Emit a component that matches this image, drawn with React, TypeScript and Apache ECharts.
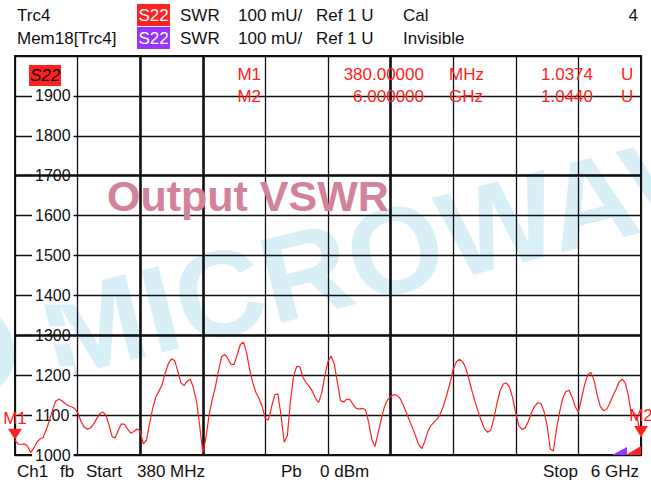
import React, { useEffect, useRef } from 'react';
import * as echarts from 'echarts';

const START_MHZ = 380;
const STOP_MHZ = 6000;
const POINT_COUNT = 201;
const frequenciesMHz = Array.from({ length: POINT_COUNT }, (_, i) =>
  (START_MHZ + (i * (STOP_MHZ - START_MHZ)) / (POINT_COUNT - 1)).toFixed(1)
);

const swrValues = [
  1037, 1027, 1027, 1028, 1022, 1006, 1017, 1032, 1040, 1044,
  1064, 1086, 1113, 1135, 1140, 1136, 1129, 1124, 1121, 1117,
  1107, 1086, 1071, 1065, 1067, 1076, 1090, 1103, 1108, 1101,
  1076, 1046, 1043, 1062, 1078, 1077, 1065, 1055, 1059, 1065,
  1060, 1028, 1037, 1079, 1117, 1146, 1160, 1177, 1206, 1229,
  1241, 1237, 1211, 1181, 1174, 1185, 1190, 1169, 1134, 1074,
  1006, 1042, 1100, 1138, 1170, 1210, 1246, 1252, 1242, 1227,
  1227, 1252, 1277, 1283, 1256, 1213, 1180, 1156, 1141, 1121,
  1091, 1088, 1122, 1151, 1153, 1099, 1032, 1048, 1134, 1198,
  1222, 1221, 1195, 1181, 1172, 1160, 1142, 1132, 1155, 1199,
  1235, 1248, 1228, 1182, 1136, 1133, 1140, 1139, 1127, 1117,
  1115, 1117, 1113, 1081, 1039, 1021, 1055, 1089, 1120, 1138,
  1147, 1151, 1150, 1142, 1126, 1107, 1087, 1068, 1047, 1026,
  1016, 1036, 1061, 1075, 1083, 1091, 1105, 1126, 1152, 1181,
  1215, 1233, 1240, 1234, 1218, 1191, 1161, 1133, 1108, 1085,
  1066, 1057, 1062, 1092, 1130, 1161, 1178, 1181, 1170, 1143,
  1105, 1073, 1064, 1068, 1084, 1106, 1122, 1131, 1129, 1110,
  1074, 1015, 1010, 1064, 1108, 1142, 1159, 1162, 1145, 1121,
  1108, 1142, 1177, 1201, 1207, 1187, 1150, 1122, 1111, 1114,
  1129, 1148, 1164, 1183, 1190, 1180, 1147, 1098, 1105, 1086,
  1044,
];

const markerNames = ['M1', 'M2'];
const markerIndices = [0, 200];
const markerStimulus = ['380.00000', '6.000000'];
const markerStimulusUnits = ['MHz', 'GHz'];
const markerResponse = ['1.0374', '1.0440'];
const markerResponseUnit = 'U';

const Y_MIN = 1000;
const Y_MAX = 2000;
const Y_STEP = 100;
const boldGridIndices = [40, 60, 120];
const boldGridLevels = [1700, 1300];

const FONT = '"Liberation Sans", Arial, sans-serif';

function txt(text: string, x: number, y: number, extra: any = {}) {
  return {
    type: 'text',
    x,
    y,
    z: 20,
    style: {
      text,
      fill: extra.fill || '#111',
      fontSize: extra.fontSize || 17,
      fontFamily: FONT,
      fontWeight: extra.fontWeight || 'normal',
      fontStyle: extra.fontStyle || 'normal',
      align: extra.align || 'left',
      verticalAlign: 'middle',
    },
  };
}

export default function App() {
  const ref = useRef<HTMLDivElement>(null);

  useEffect(() => {
    if (!ref.current) return;
    const chart = echarts.init(ref.current, undefined, { renderer: 'svg' });

    const RED = '#ff2020';
    const WM_ROT = (14 * Math.PI) / 180;
    const wmStyle = (text: string, align: string) => ({
      text,
      fill: '#d9eff8',
      fontSize: 123,
      fontFamily: FONT,
      fontWeight: 'bold',
      align,
      verticalAlign: 'middle',
    });
    const graphics: any[] = [
      // watermarks
      { type: 'text', x: 18, y: 340, rotation: WM_ROT, z: -5, style: wmStyle('O', 'right') },
      { type: 'text', x: 44, y: 338, rotation: WM_ROT, z: -5, style: wmStyle('MICROWAVE', 'left') },
      {
        type: 'text',
        x: 107,
        y: 196,
        z: 30,
        style: {
          text: 'Output VSWR',
          fill: '#d3829c',
          fontSize: 43,
          fontFamily: FONT,
          fontWeight: 'bold',
          align: 'left',
          verticalAlign: 'middle',
        },
      },
      // header
      txt('Trc4', 17, 15),
      { type: 'rect', z: 20, shape: { x: 137, y: 4, width: 33, height: 22 }, style: { fill: RED } },
      txt('S22', 153.5, 15, { fill: '#fff', align: 'center' }),
      txt('SWR', 180, 15),
      txt('100 mU/', 238, 15),
      txt('Ref 1 U', 316, 15),
      txt('Cal', 403, 15),
      txt('4', 638, 15, { align: 'right' }),
      txt('Mem18[Trc4]', 17, 38),
      { type: 'rect', z: 20, shape: { x: 137, y: 27, width: 33, height: 22 }, style: { fill: '#9933ff' } },
      txt('S22', 153.5, 38, { fill: '#fff', align: 'center' }),
      txt('SWR', 180, 38),
      txt('100 mU/', 238, 38),
      txt('Ref 1 U', 316, 38),
      txt('Invisible', 403, 38),
      // trace label in plot
      { type: 'rect', z: 20, shape: { x: 29, y: 65, width: 32, height: 21 }, style: { fill: RED } },
      txt('S22', 45, 75.5, { fill: '#111', align: 'center', fontStyle: 'italic' }),
      // footer
      txt('Ch1', 17, 471),
      txt('fb', 60, 471),
      txt('Start', 86, 471),
      txt('380 MHz', 137, 471),
      txt('Pb', 281, 471),
      txt('0 dBm', 320, 471),
      txt('Stop', 543, 471),
      txt('6 GHz', 639, 471, { align: 'right' }),
      // off-scale indicators
      { type: 'polygon', z: 20, shape: { points: [[612, 455], [627, 447], [627, 455]] }, style: { fill: '#9933ff' } },
      { type: 'polygon', z: 20, shape: { points: [[626, 455], [641, 446], [641, 455]] }, style: { fill: RED } },
    ];

    const rowsY = [74, 96];
    markerNames.forEach((name, k) => {
      const y = rowsY[k];
      graphics.push(txt(name, 261, y, { fill: RED, align: 'right' }));
      graphics.push(txt(markerStimulus[k], 424, y, { fill: RED, align: 'right' }));
      graphics.push(txt(markerStimulusUnits[k], 449, y, { fill: RED }));
      graphics.push(txt(markerResponse[k], 593, y, { fill: RED, align: 'right' }));
      graphics.push(txt(markerResponseUnit, 621, y, { fill: RED }));
    });

    chart.setOption({
      animation: false,
      backgroundColor: '#fff',
      grid: {
        left: 15,
        right: 10,
        top: 56,
        bottom: 28,
        show: true,
        borderColor: '#111',
        borderWidth: 2,
        backgroundColor: 'transparent',
      },
      xAxis: {
        type: 'category',
        data: frequenciesMHz,
        boundaryGap: false,
        axisLine: { show: false },
        axisTick: { show: false },
        axisLabel: { show: false },
        splitLine: { show: true, interval: 19, lineStyle: { color: '#111', width: 1.3 } },
      },
      yAxis: {
        type: 'value',
        min: Y_MIN,
        max: Y_MAX,
        interval: Y_STEP,
        axisLine: { show: false },
        axisTick: { show: false },
        axisLabel: {
          inside: true,
          margin: 17,
          showMaxLabel: false,
          color: '#111',
          fontSize: 16,
          fontFamily: FONT,
          backgroundColor: '#fff',
          padding: [1, 3, 1, 3],
          formatter: (v: number) => String(v),
        },
        splitLine: { show: true, lineStyle: { color: '#111', width: 1.3 } },
      },
      graphic: { elements: graphics },
      series: [
        {
          type: 'line',
          data: swrValues,
          symbol: 'none',
          lineStyle: { color: RED, width: 1.2 },
          z: 5,
          markLine: {
            silent: true,
            symbol: 'none',
            label: { show: false },
            lineStyle: { color: '#111', width: 2.6, type: 'solid' },
            data: [
              ...boldGridIndices.map((i) => ({ xAxis: i })),
              ...boldGridLevels.map((v) => ({ yAxis: v })),
            ],
            z: 1,
          },
          markPoint: {
            symbol: 'triangle',
            symbolRotate: 180,
            symbolSize: [14, 11],
            symbolOffset: [0, -6],
            itemStyle: { color: RED },
            label: {
              show: true,
              position: 'top',
              distance: 2,
              color: RED,
              fontSize: 17,
              fontFamily: FONT,
              formatter: (p: any) => p.name,
            },
            data: markerNames.map((name, k) => ({
              name,
              coord: [markerIndices[k], swrValues[markerIndices[k]]],
            })),
          },
        },
      ],
    });

    return () => chart.dispose();
  }, []);

  return (
    <div
      ref={ref}
      style={{ position: 'absolute', left: 0, top: 0, width: 651, height: 483, background: '#fff' }}
    />
  );
}
